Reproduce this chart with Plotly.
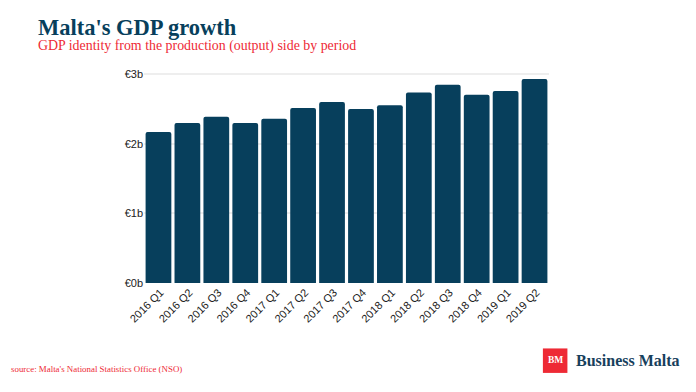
import plotly.graph_objects as go

periods = ["2016 Q1", "2016 Q2", "2016 Q3", "2016 Q4", "2017 Q1", "2017 Q2", "2017 Q3",
           "2017 Q4", "2018 Q1", "2018 Q2", "2018 Q3", "2018 Q4", "2019 Q1", "2019 Q2"]
gdp_billion = [2.172, 2.30, 2.392, 2.30, 2.363, 2.517, 2.603,
               2.503, 2.555, 2.741, 2.852, 2.708, 2.76, 2.934]
tick_values = [0, 1, 2, 3]
tick_labels = ["€0b", "€1b", "€2b", "€3b"]

PAGE_W, PAGE_H = 696, 392
INSET = 8  # page margin around the figure
W, H = PAGE_W - 2 * INSET, PAGE_H - 2 * INSET
L, R, T, B = 144, 548.6, 73.3, 283.5
NAVY = "#073f5c"
RED = "#ee2a35"
SERIF = "Liberation Serif"
SANS = "Liberation Sans"

fig = go.Figure(go.Bar(x=periods, y=gdp_billion, marker=dict(color=NAVY, line=dict(width=0))))


def px(x):
    return (x - L) / (R - L)


def py(y):
    return (B - y) / (B - T)


def note(text, x, y, size, color, family=SERIF, xanchor="left"):
    fig.add_annotation(text=text, x=px(x), y=py(y), xref="paper", yref="paper",
                       xanchor=xanchor, yanchor="middle", showarrow=False,
                       borderpad=0, borderwidth=0,
                       font=dict(family=family, size=size, color=color))


fig.update_layout(
    width=W, height=H, autosize=False, showlegend=False,
    paper_bgcolor="white", plot_bgcolor="white",
    margin=dict(l=L - INSET, r=PAGE_W - INSET - R, t=T - INSET, b=PAGE_H - INSET - B),
    bargap=0.11, barcornerradius=2,
    font=dict(family=SANS, size=11, color="#222222"),
    xaxis=dict(tickangle=-45, showgrid=False, zeroline=False, showline=False, ticks="",
               ticklabelshift=2,
               tickfont=dict(family=SANS, size=11, color="#222222")),
    yaxis=dict(range=[0, 3.02], tickvals=tick_values, ticktext=tick_labels, showline=False,
               gridcolor="#eeeeee", gridwidth=2, zeroline=False, ticks="",
               tickfont=dict(family=SANS, size=11, color="#222222")),
    shapes=[dict(type="rect", xref="paper", yref="paper", x0=px(542.5), x1=px(567),
                 y0=py(373.5), y1=py(349), fillcolor=RED, line=dict(width=0))],
)

note("<b>Malta's GDP growth</b>", 38, 28, 22.5, NAVY)
note("GDP identity from the production (output) side by period", 38, 46, 13.9, RED)
note("source: Malta's National Statistics Office (NSO)", 11, 370, 8.9, RED)
note("<b>BM</b>", 555, 361, 9.5, "white", xanchor="center")
note("<b>Business Malta</b>", 576, 361, 16, "#17405c")

fig.write_html("out.html")
